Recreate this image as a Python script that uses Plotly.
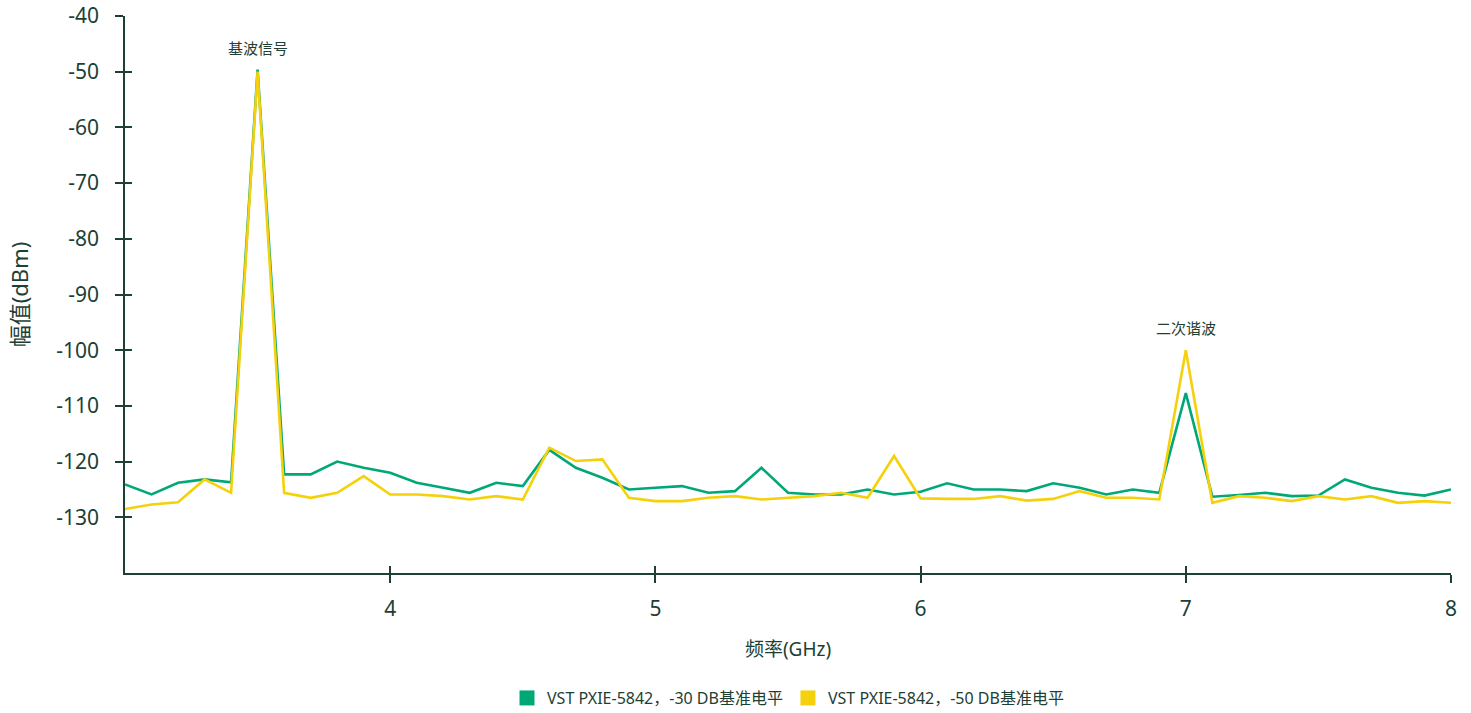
import plotly.graph_objects as go

freq_ghz = [round(3.0 + 0.1 * i, 1) for i in range(51)]

level_30db = [
    -124.1, -125.9, -123.8, -123.2, -123.7, -49.6, -122.3, -122.3, -120.0, -121.1,
    -122.0, -123.8, -124.7, -125.6, -123.8, -124.4, -117.9, -121.1, -122.9, -125.0,
    -124.7, -124.4, -125.6, -125.3, -121.1, -125.6, -125.9, -125.9, -125.0, -125.9,
    -125.4, -123.9, -125.0, -125.0, -125.3, -123.9, -124.7, -125.9, -125.0, -125.6,
    -107.7, -126.3, -126.0, -125.6, -126.2, -126.1, -123.2, -124.7, -125.6, -126.1,
    -125.0,
]

level_50db = [
    -128.5, -127.7, -127.3, -123.2, -125.6, -50.0, -125.6, -126.5, -125.6, -122.6,
    -125.9, -125.9, -126.2, -126.8, -126.2, -126.8, -117.5, -119.9, -119.6, -126.5,
    -127.1, -127.1, -126.5, -126.2, -126.8, -126.5, -126.2, -125.6, -126.5, -119.0,
    -126.6, -126.7, -126.7, -126.2, -127.0, -126.7, -125.3, -126.5, -126.5, -126.8,
    -100.0, -127.4, -126.2, -126.5, -127.1, -126.2, -126.8, -126.2, -127.4, -127.1,
    -127.4,
]

series_names = ["VST PXIE-5842，-30 DB基准电平", "VST PXIE-5842，-50 DB基准电平"]
series_colors = ["#00a878", "#f5d10c"]

y_tick_vals = [-130, -120, -110, -100, -90, -80, -70, -60, -50, -40]
x_tick_vals = [4, 5, 6, 7, 8]

annotations_text = ["基波信号", "二次谐波"]
annotations_x = [3.5, 7.0]
annotations_y = [-45.8, -96.0]

TEXT = "#1d4034"
AXIS = "#1d4034"
FONT = "Noto Sans, Noto Sans CJK SC, sans-serif"

fig = go.Figure()

for name, vals, col in zip(series_names, [level_30db, level_50db], series_colors):
    fig.add_trace(go.Scatter(
        x=freq_ghz, y=vals, mode="lines", name=name,
        line=dict(color=col, width=2.6), showlegend=False,
    ))
for name, col in zip(series_names, series_colors):
    fig.add_trace(go.Scatter(
        x=[None], y=[None], mode="markers", name=name,
        marker=dict(symbol="square", size=15, color=col),
    ))

for t, ax, ay in zip(annotations_text, annotations_x, annotations_y):
    fig.add_annotation(x=ax, y=ay, text=t, showarrow=False,
                       font=dict(size=15, color=TEXT, family=FONT))

fig.update_layout(
    width=1471, height=713,
    margin=dict(l=125, r=20, t=16, b=140, autoexpand=False),
    paper_bgcolor="white", plot_bgcolor="white",
    font=dict(family=FONT, color=TEXT),
    xaxis=dict(
        range=[3, 8], tickvals=x_tick_vals, ticktext=[str(v) for v in x_tick_vals],
        showgrid=False, zeroline=False, showline=True, linecolor=AXIS, linewidth=1.5,
        ticks="outside", ticklen=8, tickwidth=1.5, tickcolor=AXIS,
        tickfont=dict(size=21, color=TEXT), ticklabelstandoff=8, automargin=False,
        title=dict(text="频率(GHz)", font=dict(size=19, color=TEXT), standoff=22),
    ),
    yaxis=dict(
        range=[-140, -40], tickvals=y_tick_vals, ticktext=[str(v) for v in y_tick_vals],
        showgrid=False, zeroline=False, showline=True, linecolor=AXIS, linewidth=1.5,
        ticks="outside", ticklen=8, tickwidth=1.5, tickcolor=AXIS,
        tickfont=dict(size=21, color=TEXT), ticklabelstandoff=12, automargin=False,
        title=dict(text="幅值(dBm)", font=dict(size=22, color=TEXT), standoff=22),
    ),
    xaxis2=dict(
        range=[3, 8], tickvals=x_tick_vals, overlaying="x", anchor="y",
        showgrid=False, zeroline=False, showline=False, showticklabels=False,
        ticks="inside", ticklen=7, tickwidth=1.5, tickcolor=AXIS, side="bottom",
        automargin=False,
    ),
    yaxis2=dict(
        range=[-140, -40], tickvals=y_tick_vals, overlaying="y", anchor="x",
        showgrid=False, zeroline=False, showline=False, showticklabels=False,
        ticks="inside", ticklen=7, tickwidth=1.5, tickcolor=AXIS, side="left",
        automargin=False,
    ),
    legend=dict(
        orientation="h", x=0.5, xanchor="center",
        yref="container", y=0.021, yanchor="middle",
        font=dict(size=16, color=TEXT), itemwidth=30,
    ),
)

fig.add_trace(go.Scatter(x=[3, 8], y=[-140, -40], xaxis="x2", yaxis="y2",
                         mode="markers", marker=dict(opacity=0), showlegend=False,
                         hoverinfo="skip"))

fig.write_html("out.html")
